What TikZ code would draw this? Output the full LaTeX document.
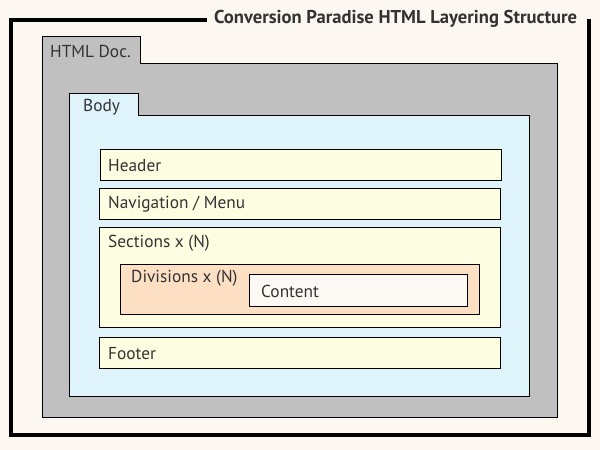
\documentclass[tikz,border=0pt]{standalone}
\usepackage{fontspec}
\setmainfont{PT Sans}
\definecolor{bgc}{HTML}{FCF8F1}
\definecolor{docgray}{HTML}{C0C0C0}
\definecolor{bodyblue}{HTML}{DFF3FB}
\definecolor{secyellow}{HTML}{FDFDE2}
\definecolor{divpeach}{HTML}{FDDFC4}
\definecolor{contentc}{HTML}{FCF8F3}
\definecolor{txt}{HTML}{333333}
\begin{document}
\begin{tikzpicture}[x=1pt,y=-1pt,
  shape box/.style={draw=black,line width=0.9pt},
  lbl/.style={anchor=west,inner sep=0pt,text=txt,font=\fontsize{17.3}{20}\selectfont}]
\fill[bgc] (0,0) rectangle (600,450);
\useasboundingbox (0,0) rectangle (600,450);
% outer frame
\draw[line width=3.3pt,line join=miter] (589,18.5) -- (589,435) -- (11,435) -- (11,20) -- (207,20);
\node[anchor=west,inner sep=0pt,text=txt,font=\fontsize{18.6}{20}\selectfont\bfseries] (title) at (214,19) {Conversion Paradise HTML Layering Structure};
% HTML doc
\filldraw[shape box,fill=docgray] (42,36) -- (140,36) -- (140,63) -- (557,63) -- (557,417) -- (42,417) -- cycle;
\node[lbl] (doc) at (50,51) {HTML Doc.};
% body
\filldraw[shape box,fill=bodyblue] (69,93) -- (138,93) -- (138,115) -- (529,115) -- (529,396) -- (69,396) -- cycle;
\node[lbl] (body) at (83,107.5) {Body};
% header
\filldraw[shape box,fill=secyellow] (100,149) rectangle (501,180.5);
\node[lbl] (header) at (108,166) {Header};
% nav
\filldraw[shape box,fill=secyellow] (99,188) rectangle (500,219);
\node[lbl] (nav) at (108,204.5) {Navigation / Menu};
% sections
\filldraw[shape box,fill=secyellow] (99,227) rectangle (500,327);
\node[lbl] (sec) at (108,243) {Sections x (N)};
% divisions
\filldraw[shape box,fill=divpeach] (120,264) rectangle (479,314);
\node[lbl] (div) at (131,278) {Divisions x (N)};
% content
\filldraw[shape box,fill=contentc] (249,274) rectangle (467,306.5);
\node[lbl] (content) at (261,291) {Content};
% footer
\filldraw[shape box,fill=secyellow] (99,337) rectangle (500,368);
\node[lbl] (footer) at (108,354) {Footer};
\end{tikzpicture}
\end{document}
